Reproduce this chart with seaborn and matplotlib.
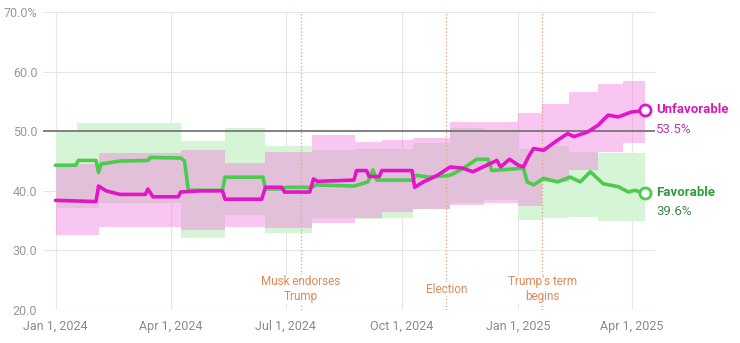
import matplotlib
matplotlib.use("Agg")
import matplotlib.pyplot as plt
import seaborn as sns
import pandas as pd

# ---------------- data ----------------
unfav_dates = ["2024-01-01","2024-01-18","2024-02-02","2024-02-04","2024-02-10","2024-02-21","2024-03-12",
               "2024-03-14","2024-03-18","2024-04-07","2024-04-09","2024-04-25","2024-05-12","2024-05-14",
               "2024-06-12","2024-06-15","2024-06-28","2024-06-30","2024-07-20","2024-07-23","2024-07-26",
               "2024-08-24","2024-08-26","2024-09-03","2024-09-05","2024-09-13","2024-09-15","2024-10-09",
               "2024-10-11","2024-10-18","2024-10-29","2024-11-08","2024-11-18","2024-11-26","2024-12-04",
               "2024-12-15","2024-12-18","2024-12-25","2025-01-01","2025-01-05","2025-01-09","2025-01-13",
               "2025-01-21","2025-02-01","2025-02-09","2025-02-14","2025-02-25","2025-03-05","2025-03-13",
               "2025-03-21","2025-03-31","2025-04-11"]
unfav_values = [38.4, 38.3, 38.2, 40.8, 40.0, 39.4, 39.4,
                40.3, 39.0, 39.0, 39.8, 40.0, 40.0, 38.6,
                38.6, 40.6, 40.6, 39.8, 39.8, 42.0, 41.6,
                41.8, 43.4, 43.4, 42.4, 42.4, 43.4, 43.4,
                40.6, 41.5, 42.6, 44.0, 43.8, 43.2, 44.0,
                45.1, 44.0, 45.3, 44.3, 44.0, 45.7, 47.1,
                46.8, 48.5, 49.6, 49.1, 49.9, 51.0, 52.7,
                52.4, 53.2, 53.5]

fav_dates = ["2024-01-01","2024-01-17","2024-01-19","2024-02-02","2024-02-04","2024-02-06","2024-02-21",
             "2024-03-14","2024-03-16","2024-04-09","2024-04-12","2024-04-15","2024-05-12","2024-05-14",
             "2024-06-13","2024-06-15","2024-06-29","2024-07-01","2024-07-22","2024-07-25","2024-08-24",
             "2024-09-04","2024-09-08","2024-09-11","2024-10-09","2024-10-12","2024-10-22","2024-11-08",
             "2024-11-18","2024-11-29","2024-12-08","2024-12-11","2025-01-05","2025-01-08","2025-01-13",
             "2025-01-21","2025-02-01","2025-02-11","2025-02-19","2025-02-27","2025-03-09","2025-03-21",
             "2025-03-29","2025-04-03","2025-04-11"]
fav_values = [44.3, 44.3, 45.1, 45.1, 43.1, 44.5, 45.0,
              45.1, 45.6, 45.5, 45.0, 40.1, 40.1, 42.3,
              42.3, 40.3, 40.3, 40.6, 40.6, 41.0, 40.8,
              41.5, 43.5, 41.8, 41.8, 42.6, 42.3, 42.6,
              43.7, 45.3, 45.3, 43.4, 43.8, 41.5, 41.0,
              42.1, 41.5, 42.3, 41.5, 43.2, 41.2, 40.7,
              39.8, 40.1, 39.6]

band_dates = ["2024-01-01","2024-01-18","2024-02-04","2024-04-09","2024-05-14","2024-06-15","2024-07-22",
              "2024-08-25","2024-09-15","2024-10-10","2024-11-08","2024-12-05","2025-01-01","2025-01-20",
              "2025-02-10","2025-03-05","2025-03-25","2025-04-11"]
unfav_upper = [44.5, 44.5, 46.3, 46.8, 44.6, 46.5, 49.3, 48.2, 48.5, 48.8, 51.5, 51.5, 53.0, 54.5, 56.5, 58.0, 58.5, 58.5]
unfav_lower = [32.6, 32.6, 34.0, 33.5, 33.9, 33.8, 34.6, 35.4, 36.5, 37.0, 37.6, 38.0, 37.5, 41.5, 43.5, 46.5, 48.0, 48.0]
fav_upper = [49.9, 51.3, 51.3, 48.3, 50.5, 47.5, 46.8, 47.0, 47.0, 48.0, 50.5, 50.0, 47.0, 47.5, 46.5, 46.3, 46.3, 46.3]
fav_lower = [37.2, 37.2, 38.0, 32.1, 36.0, 32.9, 35.5, 35.2, 35.4, 37.0, 38.0, 38.5, 35.1, 35.5, 35.6, 35.0, 35.0, 35.0]

events = ["2024-07-13", "2024-11-05", "2025-01-20"]
event_labels = ["Musk endorses\nTrump", "Election", "Trump's term\nbegins"]

xtick_dates = ["2024-01-01","2024-04-01","2024-07-01","2024-10-01","2025-01-01","2025-04-01"]
xtick_labels = ["Jan 1, 2024","Apr 1, 2024","Jul 1, 2024","Oct 1, 2024","Jan 1, 2025","Apr 1, 2025"]
ytick_values = [20, 30, 40, 50, 60, 70]
ytick_labels = ["20.0", "30.0", "40.0", "50.0", "60.0", "70.0%"]

# ---------------- style ----------------
sns.set_theme(style="white")
plt.rcParams['font.family'] = ['Roboto', 'DejaVu Sans']

UNF = "#e414c9"
FAV = "#4ccc4c"

fig = plt.figure(figsize=(7.4, 3.43), dpi=100)
ax = fig.add_axes([0.058, 0.096, 0.827, 0.869])

df_u = pd.DataFrame({"date": pd.to_datetime(unfav_dates), "value": unfav_values})
df_f = pd.DataFrame({"date": pd.to_datetime(fav_dates), "value": fav_values})
bd = pd.to_datetime(band_dates)

ax.fill_between(bd, fav_lower, fav_upper, step="post", color="#d6f5d6", lw=0, zorder=1)
ax.fill_between(bd, unfav_lower, unfav_upper, step="post", color="#f280e0", alpha=0.45, lw=0, zorder=2)

sns.lineplot(data=df_f, x="date", y="value", ax=ax, color=FAV, lw=2.6, zorder=4)
sns.lineplot(data=df_u, x="date", y="value", ax=ax, color=UNF, lw=2.6, zorder=5)

ax.plot(df_u["date"].iloc[-1], unfav_values[-1], "o", ms=8, mfc="white", mec=UNF, mew=2, zorder=6, clip_on=False)
ax.plot(df_f["date"].iloc[-1], fav_values[-1], "o", ms=8, mfc="white", mec=FAV, mew=2, zorder=6, clip_on=False)

ax.axhline(50, color="#777777", lw=1.3, zorder=3)

for d, lab in zip(events, event_labels):
    dd = pd.to_datetime(d)
    ax.axvline(dd, color="#e8a888", lw=1, ls=(0, (1, 1.5)), zorder=3)
    ax.text(dd, 23.5, lab, ha="center", va="center", fontsize=8.5, color="#dc8a5c",
            linespacing=1.15, zorder=7,
            bbox=dict(facecolor="white", edgecolor="none", pad=0.5))

ax.set_xlim(pd.Timestamp("2023-12-22"), pd.Timestamp("2025-04-19"))
ax.set_ylim(20, 70)
ax.set_yticks(ytick_values)
ax.set_yticklabels(ytick_labels)
ax.set_xticks(pd.to_datetime(xtick_dates))
ax.set_xticklabels(xtick_labels)
ax.tick_params(axis="y", length=0, labelsize=9, colors="#999999", pad=4)
ax.tick_params(axis="x", length=0, labelsize=9, colors="#8a8a8a", pad=7)
ax.set_xlabel("")
ax.set_ylabel("")
for s in ax.spines.values():
    s.set_visible(False)
ax.grid(True, color="#e6e6e6", lw=0.8, zorder=0)
ax.set_axisbelow(True)

xend = df_u["date"].iloc[-1] + pd.Timedelta(days=9)
ax.text(xend, 53.6, "Unfavorable", fontsize=9.5, fontweight="bold", color="#d41cb8", va="center", ha="left", clip_on=False)
ax.text(xend, 50.3, "53.5%", fontsize=9.5, color="#c03aaf", va="center", ha="left", clip_on=False)
ax.text(xend, 39.7, "Favorable", fontsize=9.5, fontweight="bold", color="#2f9e3a", va="center", ha="left", clip_on=False)
ax.text(xend, 36.6, "39.6%", fontsize=9.5, color="#3d8a48", va="center", ha="left", clip_on=False)

fig.savefig("out.png", dpi=100)
